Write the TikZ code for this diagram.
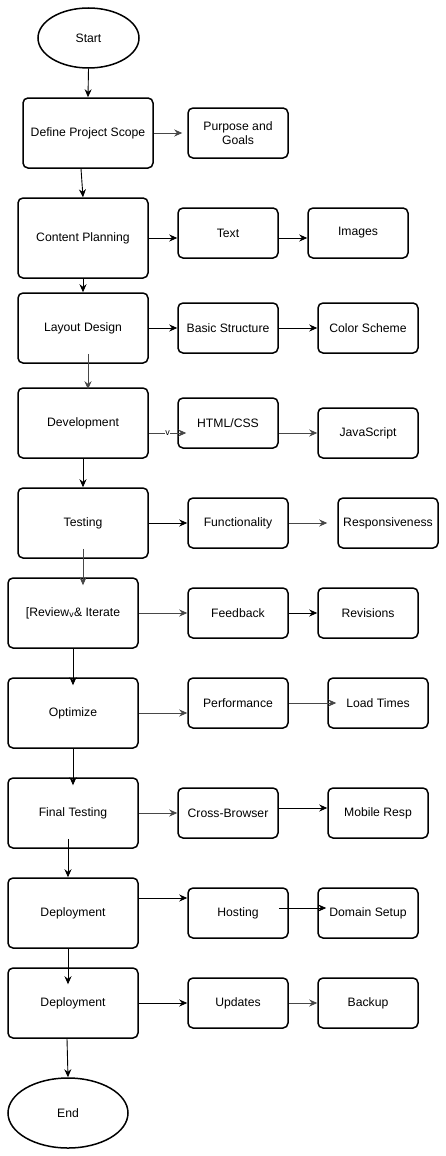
\documentclass[tikz,border=0pt]{standalone}
\usepackage{fontspec}
\setmainfont{Liberation Sans}
\usetikzlibrary{shapes.geometric, arrows.meta}

\begin{document}
\begin{tikzpicture}[x=1pt, y=-1pt,
          every node/.style = {draw, line width=1.5pt, align=center, font=\fontsize{12.2}{14}\selectfont},
          bigbox/.style={rectangle, rounded corners=5pt, minimum width=130pt, minimum height=70pt, inner sep=0pt},
          smallbox/.style={rectangle, rounded corners=5pt, minimum width=100pt, minimum height=50pt, inner sep=0pt},
          oval/.style={ellipse, inner sep=0pt},
          flow/.style={-{Stealth[length=8pt, width=7pt]}, line width=0.9pt},
          grayflow/.style={flow, draw=black!72}]
          \useasboundingbox (0, 0) rectangle (446, 1156);
          % Hovedforloeb: \node(navn) at (x, y) {tekst}
          \node[oval, minimum width=101pt, minimum height=60pt] (start) at (88.5, 38) {Start};
          \node[bigbox] (scope) at (88, 133) {Define Project Scope};
          \node[bigbox, minimum height=80pt] (content) at (83, 238) {Content Planning};
          \node[bigbox] (layout) at (83, 328) {Layout Design};
          \node[bigbox] (dev) at (83, 423) {Development};
          \node[bigbox] (test) at (83, 523) {Testing};
          \node[bigbox] (review) at (73, 613) {[Review\textsubscript{v}\& Iterate};
          \node[bigbox] (opt) at (73, 713) {Optimize};
          \node[bigbox] (final) at (73, 813) {Final Testing};
          \node[bigbox] (deploy) at (73, 913) {Deployment};
          \node[bigbox] (deploy2) at (73, 1003) {Deployment};
          \node[oval, minimum width=120pt, minimum height=70pt] (end) at (68, 1113) {End};
          % Sidetrin til hoejre
          \node[smallbox] (goals) at (238, 133) {Purpose and\\Goals};
          \node[smallbox] (text) at (228, 233) {Text};
          \node[smallbox] (images) at (358, 233) {Images};
          \node[smallbox] (structure) at (228, 328) {Basic Structure};
          \node[smallbox] (colors) at (368, 328) {Color Scheme};
          \node[smallbox] (html) at (228, 423) {HTML/CSS};
          \node[smallbox] (js) at (368, 433) {JavaScript};
          \node[smallbox] (func) at (238, 523) {Functionality};
          \node[smallbox] (resp) at (388, 523) {Responsiveness};
          \node[smallbox] (feedback) at (238, 613) {Feedback};
          \node[smallbox] (revisions) at (368, 613) {Revisions};
          \node[smallbox] (perf) at (238, 703) {Performance};
          \node[smallbox] (load) at (378, 703) {Load Times};
          \node[smallbox] (cross) at (228, 813) {Cross-Browser};
          \node[smallbox] (mobile) at (378, 813) {Mobile Resp};
          \node[smallbox] (hosting) at (238, 913) {Hosting};
          \node[smallbox] (domain) at (368, 913) {Domain Setup};
          \node[smallbox] (updates) at (238, 1003) {Updates};
          \node[smallbox] (backup) at (368, 1003) {Backup};
          % Pile nedad
          \draw[flow] (start.south) -- (scope.north);
          \draw[flow] ([xshift=-7pt]scope.south) -- (content.north);
          \draw[flow] (content.south) -- (layout.north);
          \draw[grayflow] ([xshift=5pt, yshift=10pt]layout.south) -- ([xshift=5pt, yshift=-2pt]dev.north);
          \draw[flow] (dev.south) -- (test.north);
          \draw[grayflow] ([yshift=10pt]test.south) -- ([xshift=10pt, yshift=-8pt]review.north);
          \draw[flow] (review.south) -- ([yshift=-8pt]opt.north);
          \draw[flow] (opt.south) -- ([yshift=-8pt]final.north);
          \draw[flow] ([xshift=-5pt, yshift=10pt]final.south) -- ([xshift=-5pt]deploy.north);
          \draw[flow] ([xshift=-5pt]deploy.south) -- ([xshift=-5pt, yshift=-17pt]deploy2.north);
          \draw[flow] ([xshift=-6pt]deploy2.south) -- (end.north);
          % Pile til hoejre
          \draw[grayflow] (scope.east) -- ([xshift=-5pt]goals.west);
          \draw[flow] (content.east) -- (content.east -| text.west);
          \draw[flow] ([yshift=-5pt]text.east) -- ([yshift=-5pt]images.west);
          \draw[flow] (layout.east) -- (structure.west);
          \draw[flow] (structure.east) -- (colors.west);
          \draw[grayflow] ([yshift=-10pt]dev.east) -- ([xshift=9pt, yshift=-10pt]html.west)
            node[pos=0.5, draw=none, fill=white, inner sep=0.5pt, font=\fontsize{9}{10}\selectfont] (vmark) {v};
          \draw[grayflow] ([yshift=-10pt]html.east) -- (js.west);
          \draw[flow] (test.east) -- (func.west);
          \draw[grayflow] (func.east) -- ([xshift=-10pt]resp.west);
          \draw[grayflow] (review.east) -- (feedback.west);
          \draw[flow] (feedback.east) -- (revisions.west);
          \draw[grayflow] (opt.east) -- (opt.east -| perf.west);
          \draw[grayflow] (perf.east) -- ([xshift=9pt]load.west);
          \draw[grayflow] (final.east) -- (cross.west);
          \draw[flow] ([yshift=5pt]cross.east) -- ([yshift=5pt]mobile.west);
          \draw[flow] ([yshift=15pt]deploy.east) -- ([yshift=15pt]hosting.west);
          \draw[flow] ([xshift=-10pt, yshift=5pt]hosting.east) -- ([xshift=9pt, yshift=5pt]domain.west);
          \draw[flow] (deploy2.east) -- (updates.west);
          \draw[grayflow] (updates.east) -- (backup.west);
        \end{tikzpicture}
\end{document}
